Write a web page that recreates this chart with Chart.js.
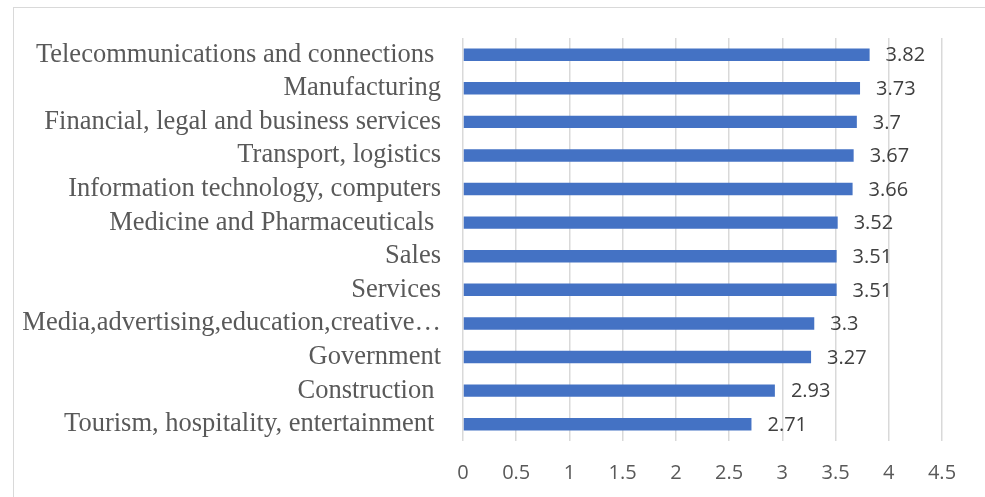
<!DOCTYPE html>
<html>
<head>
<meta charset="utf-8">
<script src="https://cdn.jsdelivr.net/npm/chart.js@4/dist/chart.umd.min.js"></script>
<style>
  body { margin: 0; background: #fff; overflow: hidden; }
  #frame { position: absolute; left: 13px; top: 7px; width: 1000px; height: 520px; border: 1.5px solid #d9d9d9; }
  canvas { position: absolute; left: 0; top: 0; }
</style>
</head>
<body>
<div id="frame"></div>
<canvas id="chart" width="985" height="497"></canvas>
<script>
// 分类名称
const categories = [
    'Telecommunications and connections ',
    'Manufacturing',
    'Financial, legal and business services',
    'Transport, logistics',
    'Information technology, computers',
    'Medicine and Pharmaceuticals ',
    'Sales',
    'Services',
    'Media,advertising,education,creative\u2026',
    'Government',
    'Construction ',
    'Tourism, hospitality, entertainment '
];

// 数值
const scores = [3.82, 3.73, 3.7, 3.67, 3.66, 3.52, 3.51, 3.51, 3.3, 3.27, 2.93, 2.71];

// 横轴刻度
const xMin = 0;
const xMax = 4.5;
const xStep = 0.5;

// 数据标签插件
const valueLabels = {
    id: 'valueLabels',
    afterDatasetsDraw(chart) {
        const ctx = chart.ctx;
        const meta = chart.getDatasetMeta(0);
        ctx.save();
        ctx.font = '20px "Open Sans"';
        ctx.fillStyle = '#404040';
        ctx.textAlign = 'left';
        ctx.textBaseline = 'middle';
        meta.data.forEach((bar, i) => {
            ctx.fillText(String(scores[i]), bar.x + 16, bar.y + 1);
        });
        ctx.restore();
    }
};

const ctx = document.getElementById('chart').getContext('2d');

new Chart(ctx, {
    type: 'bar',
    data: {
        labels: categories,
        datasets: [{
            data: scores,
            backgroundColor: '#4472c4',
            borderWidth: 0,
            barPercentage: 0.37,
            categoryPercentage: 1
        }]
    },
    options: {
        indexAxis: 'y',
        responsive: false,
        animation: false,
        layout: { padding: { top: 37, right: 43, left: 0, bottom: 0 } },
        scales: {
            x: {
                min: xMin,
                max: xMax,
                ticks: {
                    stepSize: xStep,
                    autoSkip: false,
                    maxRotation: 0,
                    padding: 20,
                    color: '#595959',
                    font: { family: 'Open Sans', size: 20 },
                    callback: (v) => String(Math.round(v * 10) / 10)
                },
                grid: { color: '#d9d9d9', lineWidth: 1.5, drawTicks: false },
                border: { display: false },
                afterFit: (scale) => { scale.height = 56; }
            },
            y: {
                ticks: {
                    autoSkip: false,
                    padding: 22,
                    color: '#595959',
                    font: { family: 'Liberation Serif', size: 26.5 }
                },
                grid: { display: false, drawTicks: false },
                border: { display: false },
                afterFit: (scale) => { scale.width = 463; }
            }
        },
        plugins: {
            legend: { display: false },
            tooltip: { enabled: false }
        }
    },
    plugins: [valueLabels]
});
</script>
</body>
</html>
